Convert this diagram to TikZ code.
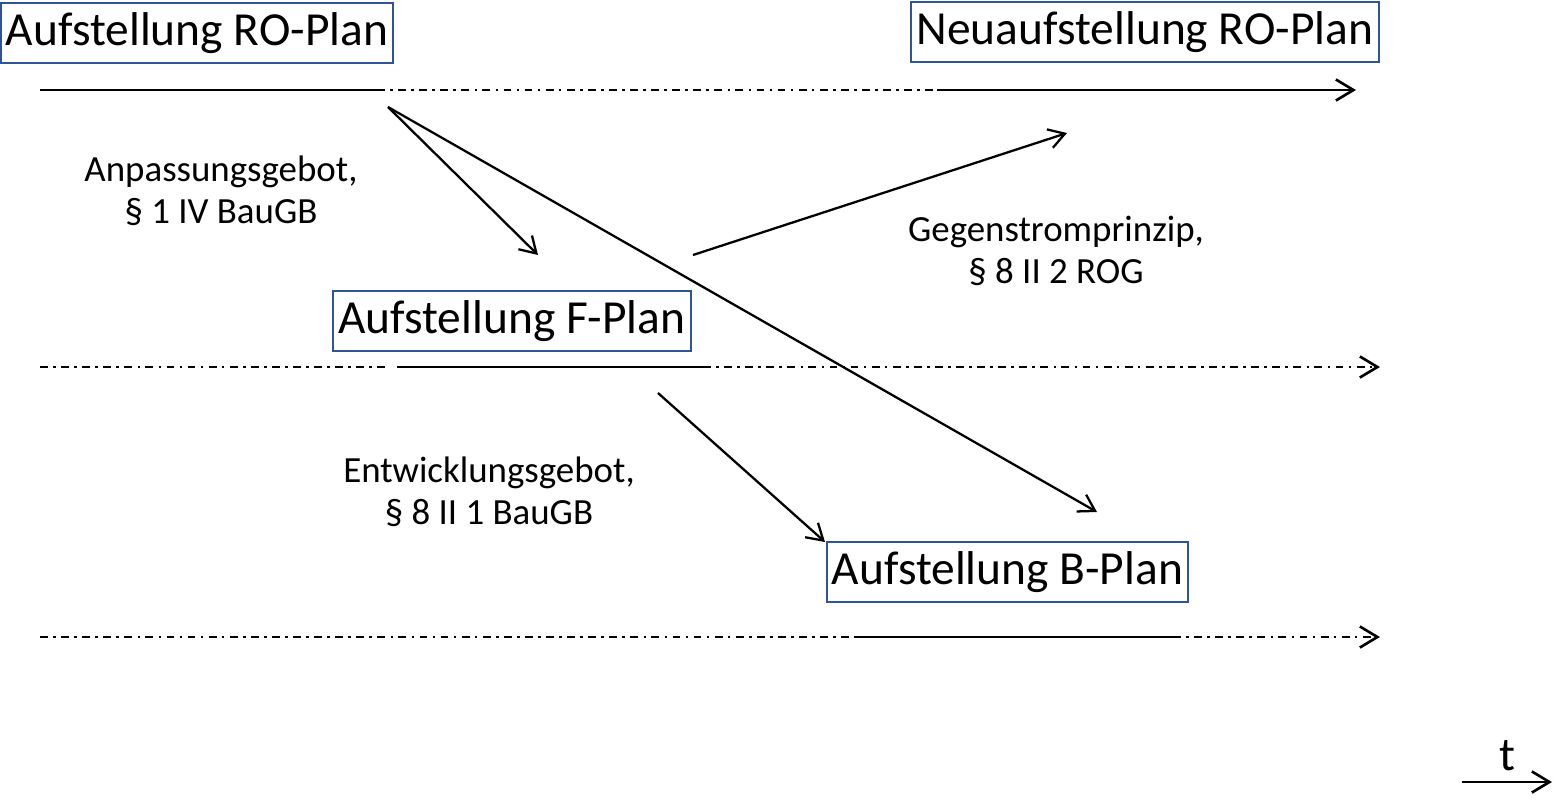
\documentclass[tikz,border=0pt]{standalone}
\usepackage{fontspec}
\setmainfont{Carlito}
\usetikzlibrary{arrows.meta}

\definecolor{boxblue}{RGB}{47,85,151}

\tikzset{
  planbox/.style={draw=boxblue, line width=1.1pt, inner xsep=3pt, inner ysep=3.5pt,
    text height=20.5pt, text depth=6.5pt, font=\fontsize{27}{32}\selectfont},
  rulelabel/.style={align=center, font=\fontsize{21}{24}\selectfont},
  dashdot/.style={dash pattern=on 4.5pt off 3pt on 1.5pt off 3pt},
  timeline/.style={line width=1.6pt},
  openarrow/.style={-{Straight Barb[length=10pt,width=12pt,line width=1.5pt]}},
  ruleline/.style={line width=1.3pt, -{Straight Barb[length=9pt,width=11pt,line width=1.3pt]}}
}

\begin{document}
\begin{tikzpicture}[x=0.02cm,y=-0.02cm]

    % Define frame
    \useasboundingbox (0,0) rectangle (1553,799);

    % plans
    \node[planbox] (ro)   at (197,33)    {Aufstellung RO-Plan};
    \node[planbox] (neu)  at (1145,32)   {Neuaufstellung RO-Plan};
    \node[planbox] (fp)   at (512,321)   {Aufstellung F-Plan};
    \node[planbox] (bp)   at (1007.5,572) {Aufstellung B-Plan};

    % level RO
    \coordinate (r0) at (40,90);
    \coordinate (r1) at (377,90);
    \coordinate (r2) at (937,90);
    \coordinate (r3) at (1356,90);
    \draw[timeline] (r0) -- (r1);
    \draw[timeline,dashdot] (r1) -- (r2);
    \draw[timeline,openarrow] (r2) -- (r3);

    % level F
    \coordinate (f0) at (40,367);
    \coordinate (f1) at (397,367);
    \coordinate (f2) at (703,367);
    \coordinate (f3) at (1380,367);
    \draw[timeline,dashdot] (f0) -- (390,367);
    \draw[timeline] (f1) -- (f2);
    \draw[timeline,dashdot,openarrow] (f2) -- (f3);

    % level B
    \coordinate (b0) at (40,637);
    \coordinate (b1) at (857,637);
    \coordinate (b2) at (1173,637);
    \coordinate (b3) at (1380,637);
    \draw[timeline,dashdot] (b0) -- (b1);
    \draw[timeline] (b1) -- (b2);
    \draw[timeline,dashdot,openarrow] (b2) -- (b3);

    % rules
    \coordinate (ro-out) at (388,107);
    \coordinate (fp-in)  at (538,255);
    \coordinate (bp-in1) at (1097,512);
    \coordinate (fp-out1) at (693,255);
    \coordinate (neu-in) at (1067,133);
    \coordinate (fp-out2) at (658,393);
    \coordinate (bp-in2) at (825,542);
    \draw[ruleline] (ro-out) -- (fp-in);
    \draw[ruleline] (ro-out) -- (bp-in1);
    \draw[ruleline] (fp-out1) -- (neu-in);
    \draw[ruleline] (fp-out2) -- (bp-in2);

    \node[rulelabel] (anp) at (221,191)  {Anpassungsgebot,\\ § 1 IV BauGB};
    \node[rulelabel] (geg) at (1056,251) {Gegenstromprinzip,\\ § 8 II 2 ROG};
    \node[rulelabel] (ent) at (489,492)  {Entwicklungsgebot,\\ § 8 II 1 BauGB};

    % time
    \coordinate (t0) at (1462,782);
    \coordinate (t1) at (1552,782);
    \draw[timeline,openarrow] (t0) -- (t1);
    \node[font=\fontsize{27}{32}\selectfont] (t) at (1507,756) {t};

\end{tikzpicture}
\end{document}
